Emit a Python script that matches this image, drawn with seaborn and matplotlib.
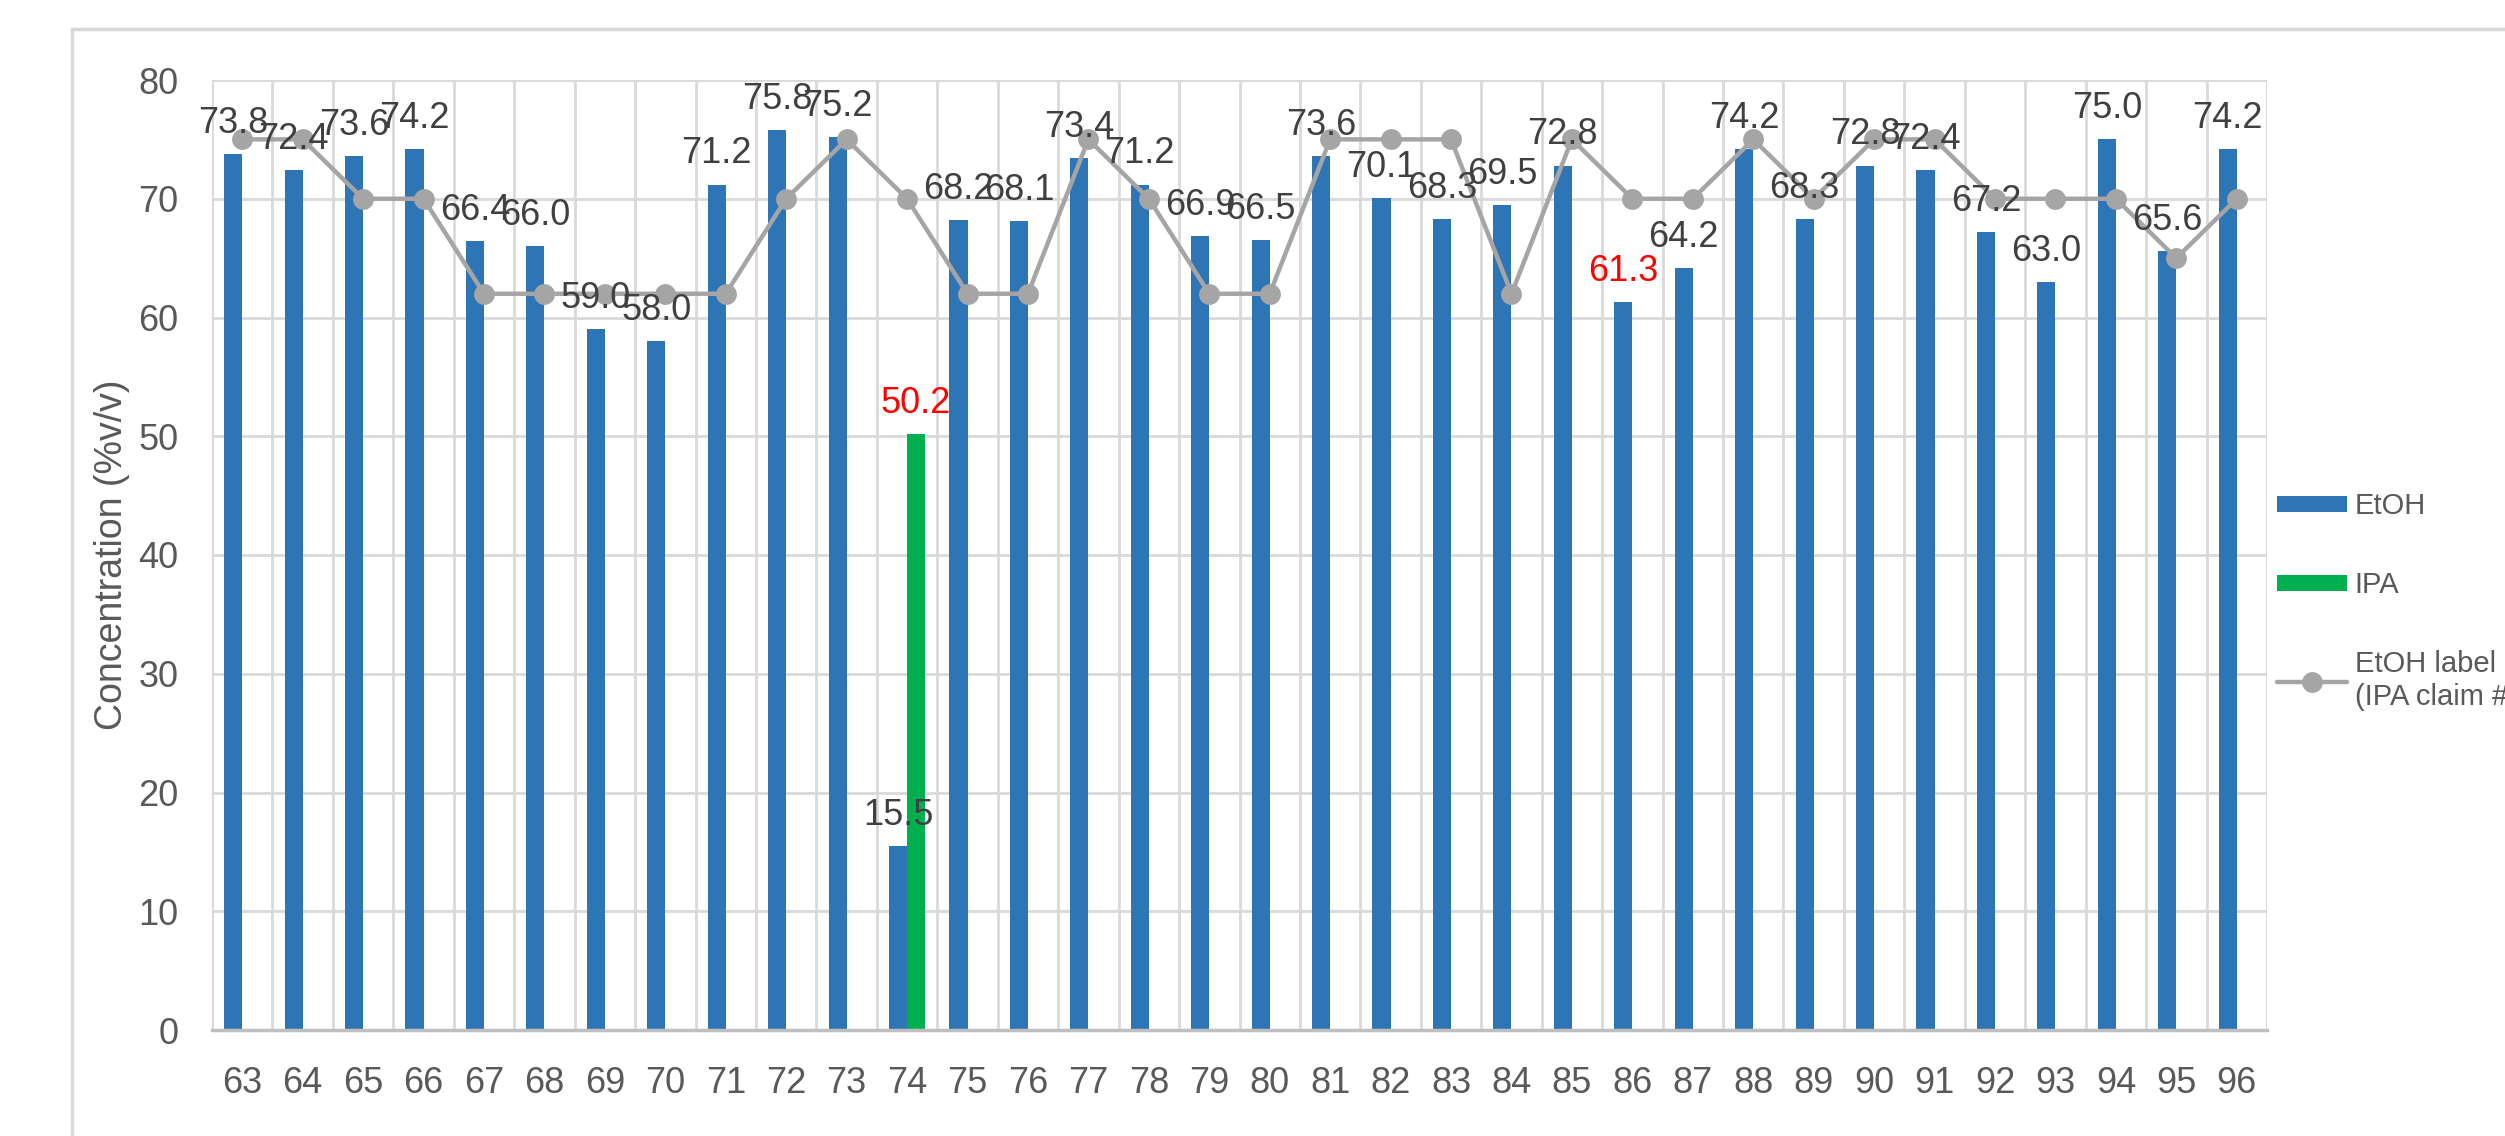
import numpy as np
import pandas as pd
import matplotlib
matplotlib.use("Agg")
import matplotlib.pyplot as plt
import seaborn as sns
from matplotlib.patches import Patch, Rectangle
from matplotlib.lines import Line2D

# Sample numbers and measured concentrations (%v/v)
samples = list(range(63, 97))
etoh = [73.8, 72.4, 73.6, 74.2, 66.4, 66.0, 59.0, 58.0, 71.2, 75.8,
        75.2, 15.5, 68.2, 68.1, 73.4, 71.2, 66.9, 66.5, 73.6, 70.1,
        68.3, 69.5, 72.8, 61.3, 64.2, 74.2, 68.3, 72.8, 72.4, 67.2,
        63.0, 75.0, 65.6, 74.2]
ipa = [0, 0, 0, 0, 0, 0, 0, 0, 0, 0,
       0, 50.2, 0, 0, 0, 0, 0, 0, 0, 0,
       0, 0, 0, 0, 0, 0, 0, 0, 0, 0,
       0, 0, 0, 0]
# Label claim for each sample (EtOH, or IPA for sample 74)
claim = [75, 75, 70, 70, 62, 62, 62, 62, 62, 70,
         75, 70, 62, 62, 75, 70, 62, 62, 75, 75,
         75, 62, 75, 70, 70, 75, 70, 75, 75, 70,
         70, 70, 65, 70]
# Values whose data labels are highlighted in red
flagged = {("IPA", 74), ("EtOH", 86)}

BLUE = "#2E75B6"
GREEN = "#00B050"
GREY_LINE = "#A5A5A5"
GRID = "#D9D9D9"
TEXT = "#595959"
LABEL = "#404040"
FS = 26

sns.set_theme(style="white")
plt.rcParams["font.family"] = ["Liberation Sans Narrow", "Liberation Sans", "DejaVu Sans"]

df = pd.DataFrame({
    "Sample": [str(s) for s in samples] * 2,
    "Concentration": etoh + ipa,
    "Series": ["EtOH"] * len(samples) + ["IPA"] * len(samples),
})

fig = plt.figure(figsize=(25.05, 11.36), dpi=100)
ax = fig.add_axes([212 / 2505, 1 - 1030 / 1136, (2267 - 212) / 2505, (1030 - 80) / 1136])

sns.barplot(data=df, x="Sample", y="Concentration", hue="Series",
            palette={"EtOH": BLUE, "IPA": GREEN}, width=0.6, gap=0,
            linewidth=0, saturation=1, legend=False, ax=ax, zorder=2)

# Label-claim line through category centres
sns.lineplot(x=np.arange(len(samples)), y=claim, color=GREY_LINE, lw=3.2,
             marker="o", markersize=15, markeredgewidth=0, ax=ax, zorder=3)

# Data labels over the bars
for series, container, vals in zip(["EtOH", "IPA"], ax.containers, [etoh, ipa]):
    for bar, s, v in zip(container, samples, vals):
        if v <= 0:
            continue
        color = "#FF0000" if (series, s) in flagged else LABEL
        ax.annotate(f"{v:.1f}", (bar.get_x() + bar.get_width() / 2, bar.get_height()),
                    xytext=(0, 22), textcoords="offset points", ha="center",
                    va="center", fontsize=FS, color=color, zorder=4)

ax.set_ylim(0, 80)
ax.set_xlim(-0.5, len(samples) - 0.5)
ax.set_yticks(np.arange(0, 81, 10))
ax.set_xticks(np.arange(len(samples)))
ax.set_xticklabels([str(s) for s in samples])

# Horizontal value gridlines and vertical category-boundary gridlines
for yv in np.arange(10, 81, 10):
    ax.axhline(yv, color=GRID, lw=2, zorder=0)
for xv in np.arange(-0.5, len(samples), 1.0):
    ax.axvline(xv, color=GRID, lw=2, zorder=0)

for side in ["top", "left", "right"]:
    ax.spines[side].set_visible(False)
ax.spines["bottom"].set_color("#BFBFBF")
ax.spines["bottom"].set_linewidth(2.5)

ax.tick_params(axis="both", length=0, labelsize=FS, labelcolor=TEXT)
ax.tick_params(axis="x", pad=26)
ax.tick_params(axis="y", pad=24)
ax.set_ylabel("Concentration (%v/v)", fontsize=27, color=TEXT, labelpad=6)
ax.set_xlabel("Sample Number", fontsize=FS, color=TEXT, labelpad=32)

handles = [
    Patch(facecolor=BLUE, edgecolor="none"),
    Patch(facecolor=GREEN, edgecolor="none"),
    Line2D([0], [0], color=GREY_LINE, lw=3.2, marker="o", markersize=15,
           markeredgewidth=0),
]
fig.legend(handles, ["EtOH", "IPA", "EtOH label claim\n(IPA claim #74)"],
           loc="upper left", bbox_to_anchor=(2251 / 2505, 1 - 466 / 1136),
           frameon=False, fontsize=21, labelcolor=TEXT, handlelength=2.4,
           handleheight=0.45, handletextpad=0.25, labelspacing=1.75)

# Outer chart frame
fig.patches.append(Rectangle((72 / 2505, -0.1), 1.2, 0.1 + 1 - 29 / 1136,
                             transform=fig.transFigure, fill=False,
                             edgecolor=GRID, lw=2.5, zorder=0))

fig.savefig("out.png", dpi=100, facecolor="white")
